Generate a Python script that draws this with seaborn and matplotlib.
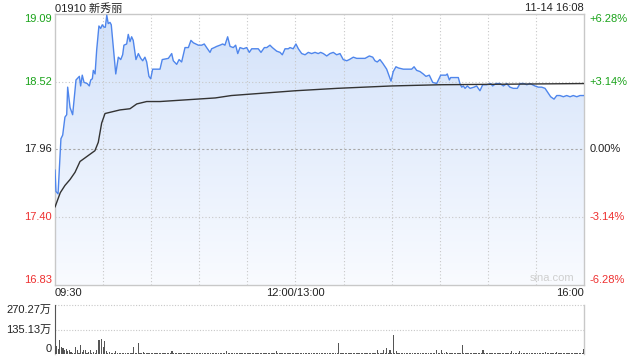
import numpy as np
import pandas as pd
import matplotlib
matplotlib.use("Agg")
import matplotlib.pyplot as plt
import seaborn as sns
from matplotlib.path import Path
from matplotlib.patches import PathPatch
from matplotlib.transforms import blended_transform_factory
from matplotlib.colors import LinearSegmentedColormap

# ---------------- data ----------------
title = "01910 新秀丽"
stamp = "11-14 16:08"
prev_close = 17.96
price_ticks = [19.09, 18.52, 17.96, 17.40, 16.83]
price_tick_text = ["19.09", "18.52", "17.96", "17.40", "16.83"]
pct_labels = ["+6.28%", "+3.14%", "0.00%", "-3.14%", "-6.28%"]
time_labels = ["09:30", "12:00/13:00", "16:00"]
time_label_pos = [0, 150, 330]
vol_ticks = [270.27, 135.13, 0]
vol_labels = ["270.27万", "135.13万", "0"]

# minutes since 09:30 (trading minutes, lunch removed)
price_t = [0, 0.6, 1.9, 3.7, 4.8, 6.2, 7.3, 7.9, 9.4, 11,
           12.5, 13.1, 15.2, 16, 17, 18.1, 20.1, 21.4, 22.3, 23.3,
           23.9, 25, 26, 27.4, 28.5, 29.5, 30.6, 31.4, 32.3, 33.2,
           34.3, 35.1, 36.4, 37.9, 39.5, 41, 42.2, 43, 44.7, 45.7,
           46.8, 47.8, 48.8, 50.5, 52, 53.5, 54.7, 56.1, 57.2, 58.6,
           59.7, 60.9, 65.5, 66.9, 70.7, 72.8, 73.8, 75.9, 77.4, 79,
           81.1, 83.2, 84.8, 86.3, 87.8, 89.4, 91.5, 93.1, 94.6, 96.7,
           97.7, 99.4, 100.9, 102.9, 104.6, 106, 107.7, 109.2, 111.2, 112.7,
           114, 115.4, 117.5, 119.6, 121.2, 122.7, 124.8, 126.8, 128.5, 130.6,
           132.1, 134.1, 135.6, 138.3, 140.4, 141.8, 143.5, 145.5, 146.6, 148.6,
           150.3, 151.8, 153.9, 156, 158, 160.1, 162.2, 164.2, 165.7, 167.4,
           169.5, 171.5, 173.6, 175.7, 177.8, 179.8, 182, 183.6, 186.1, 188.2,
           190.3, 193.4, 196.1, 198.2, 199.6, 201, 202.7, 204.4, 206.9, 208.5,
           209.6, 211, 212.7, 214.2, 217.3, 222.5, 224, 225.6, 227.7, 229.7,
           231.4, 233.5, 235.6, 238.1, 240.6, 243.9, 244.7, 246, 246.8, 251.6,
           252.6, 253.7, 254.7, 255.8, 257.2, 258.9, 261.4, 263, 265.1, 266.8,
           269.3, 271.8, 273, 275.1, 277.6, 279.7, 281.8, 283.8, 285.9, 288.4,
           290.1, 292.6, 294.3, 296.3, 299.4, 301.5, 303.6, 305.7, 307.7, 309.2,
           311.3, 313, 315, 317.1, 319.2, 321.3, 323.3, 325.5, 327.5, 329.2, 330]
price_v = [17.79, 17.61, 17.59, 18.05, 18.08, 18.23, 18.25, 18.48, 18.31, 18.25,
           18.46, 18.54, 18.57, 18.49, 18.58, 18.52, 18.51, 18.49, 18.54, 18.55,
           18.62, 18.59, 18.79, 18.99, 18.97, 19.00, 18.98, 18.98, 19.08, 19.01,
           19.02, 19.00, 18.81, 18.59, 18.73, 18.71, 18.75, 18.83, 18.84, 18.92,
           18.86, 18.90, 18.87, 18.71, 18.76, 18.72, 18.70, 18.73, 18.69, 18.57,
           18.55, 18.63, 18.63, 18.71, 18.72, 18.76, 18.70, 18.67, 18.71, 18.69,
           18.81, 18.81, 18.87, 18.85, 18.84, 18.83, 18.83, 18.84, 18.81, 18.77,
           18.80, 18.81, 18.82, 18.83, 18.84, 18.83, 18.90, 18.82, 18.81, 18.83,
           18.76, 18.81, 18.80, 18.81, 18.77, 18.80, 18.80, 18.80, 18.77, 18.81,
           18.81, 18.83, 18.81, 18.78, 18.77, 18.75, 18.80, 18.80, 18.81, 18.80,
           18.84, 18.80, 18.76, 18.75, 18.77, 18.76, 18.77, 18.76, 18.77, 18.76,
           18.74, 18.76, 18.77, 18.75, 18.76, 18.71, 18.70, 18.71, 18.73, 18.72,
           18.72, 18.72, 18.74, 18.73, 18.70, 18.69, 18.71, 18.68, 18.63, 18.57,
           18.53, 18.61, 18.65, 18.64, 18.63, 18.63, 18.65, 18.62, 18.61, 18.59,
           18.57, 18.58, 18.52, 18.51, 18.58, 18.58, 18.59, 18.54, 18.56, 18.56,
           18.51, 18.48, 18.49, 18.47, 18.49, 18.47, 18.48, 18.49, 18.45, 18.50,
           18.50, 18.51, 18.49, 18.51, 18.51, 18.49, 18.51, 18.48, 18.47, 18.47,
           18.51, 18.51, 18.50, 18.51, 18.49, 18.48, 18.48, 18.47, 18.43, 18.40,
           18.38, 18.41, 18.41, 18.40, 18.41, 18.40, 18.41, 18.40, 18.41, 18.41, 18.41]

avg_t = [0, 3.3, 6.2, 9.4, 12.5, 15.6, 18.7, 21.8, 24.9, 27, 29.1, 31.2, 34.3,
         40.5, 46.8, 51, 57.2, 65.5, 100, 110, 150, 176, 210, 240, 330]
avg_v = [17.48, 17.60, 17.66, 17.71, 17.77, 17.86, 17.89, 17.92, 17.95, 18.02,
         18.18, 18.26, 18.27, 18.29, 18.30, 18.34, 18.36, 18.36, 18.39, 18.41,
         18.45, 18.47, 18.49, 18.50, 18.51]

# volume per minute, in 万 shares
volume = [270, 45, 27, 75, 40, 31, 20, 27, 15, 24, 10, 5, 6, 40, 20, 8, 47, 10, 24, 20, 8, 10, 20, 6, 10, 5, 24, 75, 75, 82,
          40, 69, 15, 8, 10, 5, 6, 4, 15, 5, 4, 6, 3, 5, 4, 6, 5, 4, 3, 40, 6, 5, 60, 8, 6, 10, 5, 4, 6, 5,
          4, 5, 3, 6, 4, 5, 3, 4, 6, 5, 4, 3, 5, 18, 6, 4, 5, 8, 4, 5, 6, 3, 4, 5, 7, 4, 3, 5, 4, 6,
          5, 4, 3, 6, 5, 4, 5, 3, 4, 6, 5, 4, 3, 5, 6, 4, 5, 15, 6, 4, 5, 3, 6, 4, 5, 4, 6, 3, 5, 4,
          4, 5, 6, 3, 4, 5, 4, 6, 5, 3, 4, 5, 6, 4, 3, 5, 4, 6, 15, 8, 5, 4, 6, 5, 3, 4, 6, 5, 4, 5,
          3, 5, 4, 6, 4, 5, 3, 4, 5, 6, 4, 3, 5, 4, 6, 5, 4, 3, 5, 4, 6, 5, 4, 3, 5, 4, 5, 60, 6, 4,
          5, 4, 6, 3, 5, 4, 5, 6, 4, 3, 5, 4, 6, 5, 4, 3, 5, 4, 6, 5, 4, 24, 5, 6, 4, 20, 6, 31, 5, 24,
          8, 106, 6, 15, 5, 4, 6, 3, 5, 4, 6, 5, 4, 3, 5, 6, 4, 5, 3, 4, 6, 5, 4, 3, 5, 4, 6, 5, 20, 4,
          5, 20, 6, 4, 10, 5, 3, 4, 6, 5, 4, 3, 5, 4, 51, 8, 5, 4, 6, 5, 3, 4, 5, 6, 4, 3, 5, 20, 4, 5,
          6, 4, 5, 3, 4, 6, 5, 4, 3, 5, 4, 6, 5, 3, 4, 15, 5, 4, 6, 5, 15, 4, 3, 5, 6, 4, 5, 3, 4, 6,
          5, 4, 6, 3, 5, 4, 12, 5, 4, 3, 6, 5, 4, 10, 5, 4, 6, 3, 5, 4, 6, 5, 4, 3, 5, 6, 4, 5, 3, 4,
          27]

# ---------------- style ----------------
sns.set_style("white")
plt.rcParams['font.family'] = ['Liberation Sans', 'Noto Sans CJK SC', 'DejaVu Sans']
plt.rcParams['axes.unicode_minus'] = False

GREEN = '#1aa31a'
RED = '#ee3030'
DARK = '#222222'
GRID = '#c8c8c8'
LINE = '#4f86ec'
FS = 8

price_df = pd.DataFrame({'t': price_t, 'p': price_v})
avg_df = pd.DataFrame({'t': avg_t, 'p': avg_v})
vol_df = pd.DataFrame({'t': np.arange(len(volume)), 'v': volume})

fig = plt.figure(figsize=(6.4, 3.6), dpi=100)
W, H = 640.0, 360.0
L, R = 55, 584
ax = fig.add_axes([L / W, (H - 285) / H, (R - L) / W, (285 - 14) / H])
axv = fig.add_axes([L / W, (H - 354) / H, (R - L) / W, (354 - 305) / H])

y_lo, y_hi = price_ticks[-1], price_ticks[0]
ax.set_xlim(0, 330)
ax.set_ylim(y_lo, y_hi)

# gradient fill under price line
grad = np.linspace(1, 0, 256).reshape(-1, 1)
cmap = LinearSegmentedColormap.from_list('g', ['#f9fbff', '#d3e2fa'])
img = ax.imshow(grad, extent=[0, 330, y_lo, y_hi], aspect='auto', cmap=cmap,
                origin='upper', zorder=1)
verts = list(zip(price_t, price_v)) + [(price_t[-1], y_lo), (price_t[0], y_lo)]
clip = PathPatch(Path(verts), transform=ax.transData, facecolor='none', edgecolor='none')
ax.add_patch(clip)
img.set_clip_path(clip)

# grid
for x in range(30, 330, 30):
    ax.axvline(x, color=GRID, lw=0.8, ls=(0, (1, 2)), zorder=2)
for y in [price_ticks[1], price_ticks[3]]:
    ax.axhline(y, color=GRID, lw=0.8, ls=(0, (1, 2)), zorder=2)
ax.axhline(prev_close, color='#a8a8a8', lw=0.8, ls=(0, (2, 2)), zorder=2)

sns.lineplot(data=price_df, x='t', y='p', ax=ax, color=LINE, lw=1.0, zorder=4,
             estimator=None, sort=False)
sns.lineplot(data=avg_df, x='t', y='p', ax=ax, color='#333333', lw=1.0, zorder=5,
             estimator=None, sort=False)

ax.set_xticks([])
ax.set_yticks([])
ax.set_xlabel('')
ax.set_ylabel('')
for s in ax.spines.values():
    s.set_color('#c8c8c8')
    s.set_linewidth(1.0)

tr = blended_transform_factory(ax.transAxes, ax.transData)
colors = [GREEN, GREEN, DARK, RED, RED]
vas = ['top', 'center', 'center', 'center', 'bottom']
for val, txt, pct, c, va in zip(price_ticks, price_tick_text, pct_labels, colors, vas):
    ax.text(-0.006, val, txt, transform=tr, ha='right', va=va, color=c, fontsize=FS)
    ax.text(1.011, val, pct, transform=tr, ha='left', va=va, color=c, fontsize=FS)

# time labels
has = ['left', 'center', 'right']
trx = blended_transform_factory(ax.transData, ax.transAxes)
for pos, txt, ha in zip(time_label_pos, time_labels, has):
    ax.text(pos, -0.029, txt, transform=trx, ha=ha, va='center', color=DARK, fontsize=FS)

# title and stamp
ax.text(0, 1.022, title, transform=ax.transAxes, ha='left', va='center', color=DARK, fontsize=FS)
ax.text(1, 1.022, stamp, transform=ax.transAxes, ha='right', va='center', color=DARK, fontsize=FS)

# watermark
ax.text(0.94, 0.025, 'sina.com', transform=ax.transAxes, ha='center', va='center',
        color='#cfcfcf', fontsize=FS, zorder=3)

# ---------------- volume ----------------
axv.set_xlim(0, 330)
axv.set_ylim(0, vol_ticks[0])
axv.bar(vol_df['t'], vol_df['v'], width=0.7, color='#555555', linewidth=0, zorder=3)
for y in vol_ticks[:2]:
    axv.axhline(y, color=GRID, lw=0.8, ls=(0, (1, 1.5)), zorder=2, clip_on=False)
axv.set_xticks([])
axv.set_yticks([])
for k in ['top', 'bottom']:
    axv.spines[k].set_visible(False)
for k in ['left', 'right']:
    axv.spines[k].set_color('#c8c8c8')
    axv.spines[k].set_linewidth(1.0)
trv = blended_transform_factory(axv.transAxes, axv.transData)
for val, txt, va in zip(vol_ticks, vol_labels, ['top', 'center', 'bottom']):
    axv.text(-0.006, val, txt, transform=trv, ha='right', va=va, color=DARK, fontsize=FS)

fig.savefig('out.png', dpi=100)
